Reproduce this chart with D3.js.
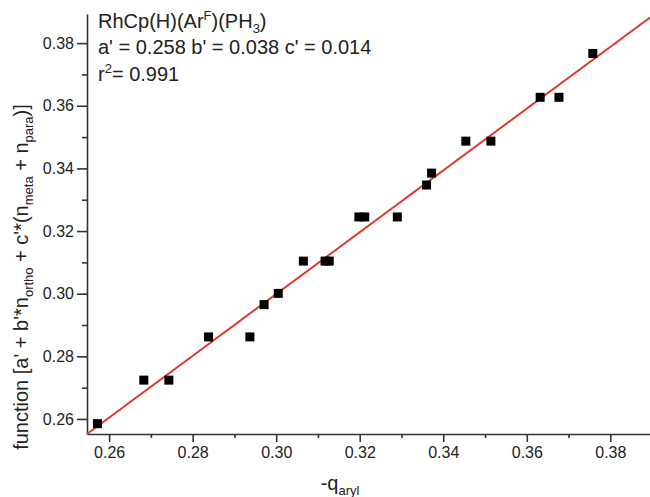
<!DOCTYPE html>
<html><head><meta charset="utf-8">
<script src="https://cdn.jsdelivr.net/npm/d3@7"></script>
<style>body{margin:0;background:#fff}svg{display:block}text{font-family:"Liberation Sans",Arial,sans-serif;fill:#222}</style>
</head><body>
<svg id="c" width="650" height="497"></svg>
<script>
const xValues = [0.2572,0.2683,0.2743,0.2838,0.2937,0.2971,0.3005,0.3065,0.3117,0.3127,0.3198,0.3212,0.3290,0.3360,0.3372,0.3454,0.3514,0.3632,0.3677,0.3758];
const yValues = [0.2585,0.2724,0.2724,0.2862,0.2862,0.2965,0.3001,0.3104,0.3104,0.3104,0.3245,0.3245,0.3245,0.3347,0.3385,0.3487,0.3487,0.3627,0.3627,0.3767];
const fitX = [0.2547, 0.3895];
const fitY = [0.2552, 0.3882];
const xTicks = [0.26,0.28,0.30,0.32,0.34,0.36,0.38];
const yTicks = [0.26,0.28,0.30,0.32,0.34,0.36,0.38];
const xMinor = [0.27,0.29,0.31,0.33,0.35,0.37];
const yMinor = [0.27,0.29,0.31,0.33,0.35,0.37];

const svg = d3.select("#c");
const x = d3.scaleLinear().domain([0.2547, 0.3895]).range([87, 650]);
const y = d3.scaleLinear().domain([0.2552, 0.3893]).range([434, 14]);

svg.append("g").attr("transform","translate(0,434)")
  .call(d3.axisBottom(x).tickValues(xTicks).tickFormat(d3.format(".2f")).tickSize(8).tickSizeOuter(0).tickPadding(5));
svg.append("g").attr("transform","translate(0,434)")
  .call(d3.axisBottom(x).tickValues(xMinor).tickFormat("").tickSize(4).tickSizeOuter(0))
  .select(".domain").remove();
svg.append("g").attr("transform","translate(87,0)")
  .call(d3.axisLeft(y).tickValues(yTicks).tickFormat(d3.format(".2f")).tickSize(10).tickSizeOuter(0).tickPadding(3));
svg.append("g").attr("transform","translate(87,0)")
  .call(d3.axisLeft(y).tickValues(yMinor).tickFormat("").tickSize(5).tickSizeOuter(0))
  .select(".domain").remove();
svg.selectAll(".domain, .tick line").attr("stroke","#333").attr("stroke-width",1.6);
svg.selectAll(".tick text").attr("font-size",16).attr("fill","#222").attr("font-family","Liberation Sans, Arial, sans-serif");

svg.append("line")
  .attr("x1",x(fitX[0])).attr("y1",y(fitY[0]))
  .attr("x2",x(fitX[1])).attr("y2",y(fitY[1]))
  .attr("stroke","#e03a2a").attr("stroke-width",2);

const pts = xValues.map((v,i)=>[v,yValues[i]]);
svg.append("g").selectAll("rect").data(pts).join("rect")
  .attr("x",d=>x(d[0])-4.5).attr("y",d=>y(d[1])-4.5)
  .attr("width",9).attr("height",9).attr("fill","#000");

const FS = 20, SS = 13;
const t1 = svg.append("text").attr("x",98).attr("y",28).attr("font-size",FS);
t1.append("tspan").text("RhCp(H)(Ar");
t1.append("tspan").text("F").attr("font-size",SS).attr("dy",-8);
t1.append("tspan").text(")(PH").attr("dy",8);
t1.append("tspan").text("3").attr("font-size",SS).attr("dy",5);
t1.append("tspan").text(")").attr("dy",-5);
svg.append("text").attr("x",98).attr("y",54).attr("font-size",FS).text("a' = 0.258 b' = 0.038 c' = 0.014");
const t3 = svg.append("text").attr("x",98).attr("y",81).attr("font-size",FS);
t3.append("tspan").text("r");
t3.append("tspan").text("2").attr("font-size",SS).attr("dy",-8);
t3.append("tspan").text("= 0.991").attr("dy",8);

const yl = svg.append("text").attr("transform","translate(28,277) rotate(-90)").attr("text-anchor","middle").attr("font-size",FS);
yl.append("tspan").text("function [a' + b'*n");
yl.append("tspan").text("ortho").attr("font-size",SS).attr("dy",5);
yl.append("tspan").text(" + c'*(n").attr("dy",-5);
yl.append("tspan").text("meta").attr("font-size",SS).attr("dy",5);
yl.append("tspan").text(" + n").attr("dy",-5);
yl.append("tspan").text("para").attr("font-size",SS).attr("dy",5);
yl.append("tspan").text(")]").attr("dy",-5);

const xl = svg.append("text").attr("x",340).attr("y",490).attr("text-anchor","middle").attr("font-size",FS);
xl.append("tspan").text("-q");
xl.append("tspan").text("aryl").attr("font-size",SS).attr("dy",5);
</script>
</body></html>
